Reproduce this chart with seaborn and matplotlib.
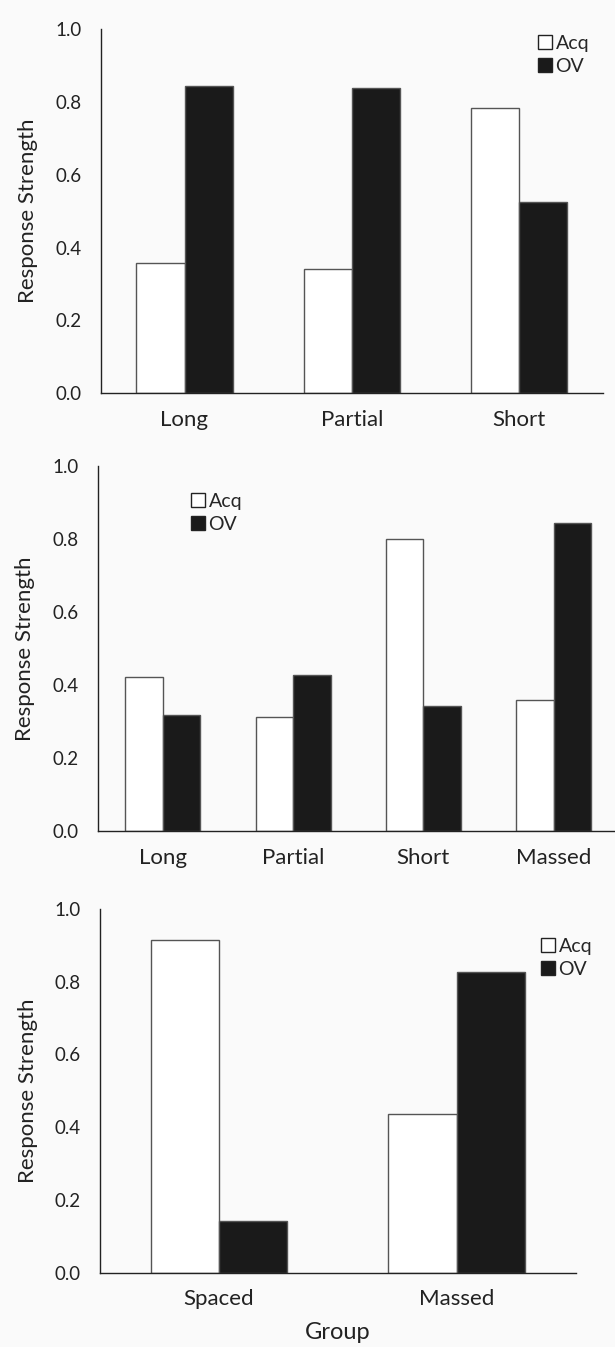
import numpy as np
import pandas as pd
import matplotlib
matplotlib.use("Agg")
import matplotlib.pyplot as plt
import seaborn as sns

#DATA
groups_a = ['Long', 'Partial', 'Short']
acq_a = [0.359, 0.342, 0.782]
ov_a = [0.844, 0.839, 0.524]

groups_b = ['Long', 'Partial', 'Short', 'Massed']
acq_b = [0.423, 0.313, 0.801, 0.359]
ov_b = [0.319, 0.428, 0.342, 0.843]

groups_c = ['Spaced', 'Massed']
acq_c = [0.916, 0.437]
ov_c = [0.141, 0.828]

yticks = [0.0, 0.2, 0.4, 0.6, 0.8, 1.0]

sns.set_style("white")
plt.rcParams['font.family'] = ['Lato', 'DejaVu Sans']

bg = '#fafafa'
txt = '#222222'
fig = plt.figure(figsize=(6.15, 13.47), dpi=100, facecolor=bg)

def make_df(groups, acq, ov):
    return pd.DataFrame({
        'Group': groups * 2,
        'Series': ['Acq'] * len(groups) + ['OV'] * len(groups),
        'Response': acq + ov,
    })

def panel(rect, groups, acq, ov, leg_xy, xlabel=None):
    ax = fig.add_axes(rect)
    ax.set_facecolor(bg)
    df = make_df(groups, acq, ov)
    sns.barplot(data=df, x='Group', y='Response', hue='Series',
                palette={'Acq': 'white', 'OV': '#1a1a1a'},
                width=0.575, gap=0, edgecolor='#555555', linewidth=1.0,
                saturation=1, ax=ax)
    ax.set_ylim(0, 1.0)
    ax.set_yticks(yticks)
    ax.set_yticklabels(['%.1f' % t for t in yticks])
    ax.set_xlim(-0.5, len(groups) - 0.5)
    for s in ['top', 'right']:
        ax.spines[s].set_visible(False)
    for s in ['left', 'bottom']:
        ax.spines[s].set_color(txt)
        ax.spines[s].set_linewidth(1.0)
    ax.tick_params(axis='y', length=0, pad=14, labelsize=13.5, colors=txt)
    ax.tick_params(axis='x', length=0, pad=12, labelsize=16, colors=txt)
    ax.set_ylabel('Response Strength', fontsize=16, color=txt, labelpad=12)
    if xlabel:
        ax.set_xlabel(xlabel, fontsize=17, color=txt, labelpad=9)
    else:
        ax.set_xlabel('')
    handles, labels = ax.get_legend_handles_labels()
    for h in handles:
        h.set_edgecolor(txt)
    ax.legend(handles, labels, loc='upper left', bbox_to_anchor=leg_xy,
              bbox_transform=fig.transFigure, frameon=False, fontsize=14,
              handlelength=0.7, handleheight=0.7, handletextpad=0.2,
              labelspacing=0.3, borderpad=0, borderaxespad=0)
    return ax

#TOP
panel([0.164, 0.708, 0.816, 0.2705], groups_a, acq_a, ov_a,
      (538 / 615, 1 - 35 / 1347))
#MIDDLE
panel([0.159, 0.383, 0.847, 0.271], groups_b, acq_b, ov_b,
      (191 / 615, 1 - 493 / 1347))
#BOTTOM
panel([0.1626, 0.0552, 0.7735, 0.270], groups_c, acq_c, ov_c,
      (541 / 615, 1 - 938 / 1347), xlabel='Group')

plt.savefig('out.png', dpi=100, facecolor=bg)
